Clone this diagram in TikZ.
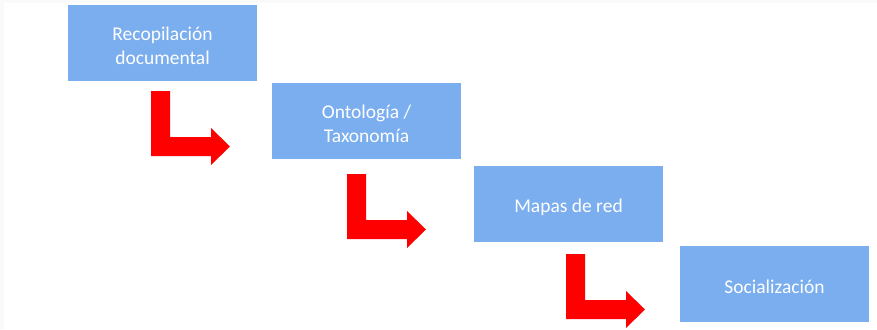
\documentclass[tikz,border=0pt]{standalone}
\usepackage{fontspec}
\setmainfont{Carlito}
\definecolor{boxblue}{HTML}{7BAEEE}
\definecolor{arrowred}{HTML}{FF0000}
\definecolor{edgegray}{HTML}{FAFAFA}
\begin{document}
\begin{tikzpicture}[x=1pt,y=-1pt,
  stepbox/.style={fill=boxblue,draw=none,minimum width=189pt,minimum height=76pt,inner sep=0pt},
  steptext/.style={text=white,align=center,inner sep=0pt,yshift=-3pt,
    font=\fontsize{19.5}{24}\selectfont},
  bentarrow/.pic={
    \fill[arrowred] (0,0) -- (19,0) -- (19,46) -- (60,46) -- (60,37) -- (79,55.5)
      -- (60,74) -- (60,65) -- (0,65) -- cycle;
  }]
\useasboundingbox (0,0) rectangle (877,329);
\fill[edgegray] (0,0) rectangle (877,329);
\fill[white] (4,3) rectangle (877,329);
\node[stepbox] (b1) at (162.5,43) {};
\node[stepbox] (b2) at (366.5,120.5) {};
\node[stepbox] (b3) at (568.5,204) {};
\node[stepbox] (b4) at (774.5,284) {};
\node[steptext] (t1) at (b1.center) {Recopilación\\documental};
\node[steptext] (t2) at (b2.center) {Ontología /\\Taxonomía};
\node[steptext] (t3) at (b3.center) {Mapas de red};
\node[steptext] (t4) at (b4.center) {Socialización};
\coordinate (a1) at (151,91);
\coordinate (a2) at (347,174);
\coordinate (a3) at (566,254);
\pic at (a1) {bentarrow};
\pic at (a2) {bentarrow};
\pic at (a3) {bentarrow};
\end{tikzpicture}
\end{document}
